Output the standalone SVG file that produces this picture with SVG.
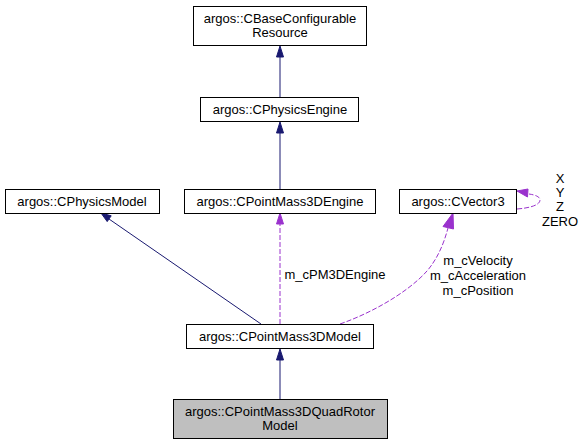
<svg xmlns="http://www.w3.org/2000/svg" width="584" height="445" viewBox="0 0 584 445">
<style>
text{font-family:"Liberation Sans",Arial,sans-serif;font-size:13px;fill:#000}
.n rect{fill:#fff;stroke:#000;stroke-width:1}
.n text{text-anchor:middle}
.inh{fill:none;stroke:#191970;stroke-width:1}
.inhh{fill:#191970;stroke:#191970}
.use{fill:none;stroke:#9a32cd;stroke-width:1;stroke-dasharray:5,2}
.useh{fill:#9a32cd;stroke:#9a32cd}
.lbl{text-anchor:middle}
</style>
<rect width="584" height="445" fill="#fff"/>
<g id="edges">
<line class="inh" x1="280" y1="97" x2="280" y2="57"/>
<polygon class="inhh" points="280,46 276.5,57 283.5,57"/>
<line class="inh" x1="280" y1="189" x2="280" y2="133"/>
<polygon class="inhh" points="280,122 276.5,133 283.5,133"/>
<line class="inh" x1="261" y1="324" x2="109" y2="219"/>
<polygon class="inhh" points="101,213 111.2,215.8 107.2,221.6"/>
<line class="inh" x1="280" y1="399" x2="280" y2="360"/>
<polygon class="inhh" points="280,349 276.5,360 283.5,360"/>
<line class="use" x1="280" y1="324" x2="280" y2="224"/>
<polygon class="useh" points="280,213 276.5,224 283.5,224"/>
<text class="lbl" x="335" y="279">m_cPM3DEngine</text>
<path class="use" d="M340,324 C380,310 420,284 433,263 C441,251 445,239 448,228"/>
<polygon class="useh" points="453,213 443,226.5 453.5,229"/>
<text class="lbl" x="478" y="265">m_cVelocity</text>
<text class="lbl" x="478" y="280">m_cAcceleration</text>
<text class="lbl" x="478" y="295">m_cPosition</text>
<path class="use" d="M517,209 C530,208 540,205 540,200 C540,197 536,195 529,194"/>
<polygon class="useh" points="517,191 528,189 527.5,197"/>
<text class="lbl" x="560" y="183">X</text>
<text class="lbl" x="560" y="197">Y</text>
<text class="lbl" x="560" y="211">Z</text>
<text class="lbl" x="560" y="226">ZERO</text>
</g>
<g id="node_base" class="n"><rect x="193.5" y="6.5" width="173" height="39"/><text x="280" y="23">argos::CBaseConfigurable</text><text x="280" y="37">Resource</text></g>
<g id="node_physengine" class="n"><rect x="200.5" y="97.5" width="158" height="24"/><text x="280" y="114">argos::CPhysicsEngine</text></g>
<g id="node_physmodel" class="n"><rect x="5.5" y="189.5" width="154" height="24"/><text x="82" y="206">argos::CPhysicsModel</text></g>
<g id="node_pm3dengine" class="n"><rect x="184.5" y="189.5" width="191" height="24"/><text x="280" y="206">argos::CPointMass3DEngine</text></g>
<g id="node_vector3" class="n"><rect x="399.5" y="189.5" width="117" height="24"/><text x="458" y="206">argos::CVector3</text></g>
<g id="node_pm3dmodel" class="n"><rect x="186.5" y="324.5" width="187" height="24"/><text x="280" y="341">argos::CPointMass3DModel</text></g>
<g id="node_quadrotor" class="n"><rect x="173.5" y="399.5" width="214" height="39" style="fill:#bfbfbf"/><text x="280" y="416">argos::CPointMass3DQuadRotor</text><text x="280" y="430">Model</text></g>
</svg>
